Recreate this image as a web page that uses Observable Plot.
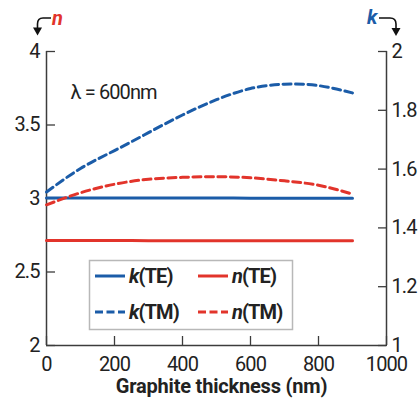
<!DOCTYPE html>
<html>
<head>
<meta charset="utf-8">
<script src="https://cdn.jsdelivr.net/npm/d3@7"></script>
<script src="https://cdn.jsdelivr.net/npm/@observablehq/plot@0.6"></script>
<style>
  html, body { margin: 0; padding: 0; background: white; }
  #chart { width: 419px; height: 401px; }
  #chart svg text { letter-spacing: -0.9px; }
  #chart svg text.xlabel { letter-spacing: -0.2px; }
</style>
</head>
<body>
<div id="chart"></div>
<script>
// Data
const thickness = [0, 100, 200, 300, 400, 500, 600, 700, 800, 900];
const kTE = [1.502, 1.502, 1.502, 1.502, 1.502, 1.502, 1.501, 1.501, 1.501, 1.501];
const kTM = [1.522, 1.602, 1.663, 1.724, 1.784, 1.836, 1.874, 1.889, 1.884, 1.859];
const nTE = [2.714, 2.714, 2.714, 2.713, 2.713, 2.713, 2.712, 2.712, 2.712, 2.712];
const nTM = [2.957, 3.039, 3.097, 3.131, 3.144, 3.148, 3.141, 3.120, 3.090, 3.030];
const xTicks = [0, 200, 400, 600, 800, 1000];
const nTicks = [2, 2.5, 3, 3.5, 4];
const kTicks = [1, 1.2, 1.4, 1.6, 1.8, 2];
const seriesNames = ["k(TE)", "n(TE)", "k(TM)", "n(TM)"];
const xLabel = "Graphite thickness (nm)";
const wavelengthLabel = "λ = 600nm";

const blue = "#1b5ca8";
const red = "#e2342b";
const axisColor = "#3c3c3c";
const font = "Roboto, 'Liberation Sans', Arial, sans-serif";

// k is plotted on the left (n) scale: n-units = 2*k  (k 1..2 ↔ n 2..4)
const kToN = k => 2 * k;
const rows = (vals, toN) => thickness.map((t, i) => ({x: t, y: toN(vals[i])}));
const idN = v => v;

const lineOpts = (stroke, dashed) => ({
  x: "x", y: "y", stroke, strokeWidth: 3, curve: "natural",
  strokeDasharray: dashed ? "8,4.5" : null
});

const chart = Plot.plot({
  width: 419,
  height: 401,
  marginLeft: 46,
  marginRight: 33,
  marginTop: 51,
  marginBottom: 56,
  x: {domain: [0, 1000]},
  y: {domain: [2, 4]},
  style: {fontFamily: font, fontSize: "20px", color: "#222", background: "white", overflow: "visible"},
  marks: [
    // axis lines
    Plot.ruleX([0, 1000], {stroke: axisColor, strokeWidth: 1.5}),
    Plot.ruleY([2], {stroke: axisColor, strokeWidth: 1.5}),
    // inward ticks
    Plot.axisX({ticks: xTicks, tickSize: -9, tickFormat: () => "", stroke: axisColor, strokeWidth: 1.3, label: null}),
    Plot.axisY({ticks: nTicks, tickSize: -9, tickFormat: () => "", stroke: axisColor, strokeWidth: 1.3, label: null}),
    Plot.axisY({anchor: "right", ticks: kTicks.map(kToN), tickSize: -9, tickFormat: () => "", stroke: axisColor, strokeWidth: 1.3, label: null}),
    // tick labels
    Plot.axisX({ticks: xTicks, tickSize: 0, tickPadding: 11, tickFormat: d => String(d), label: null}),
    Plot.axisY({ticks: nTicks, tickSize: 0, tickPadding: 7, tickFormat: d => String(d), label: null}),
    Plot.axisY({anchor: "right", ticks: kTicks.map(kToN), tickSize: 0, tickPadding: 5, tickFormat: d => String(+(d / 2).toFixed(1)), label: null}),
    // data
    Plot.line(rows(nTE, idN), lineOpts(red, false)),
    Plot.line(rows(kTE, kToN), lineOpts(blue, false)),
    Plot.line(rows(nTM, idN), lineOpts(red, true)),
    Plot.line(rows(kTM, kToN), lineOpts(blue, true)),
    // annotations
    Plot.text([wavelengthLabel], {frameAnchor: "top-left", dx: 24, dy: 33, textAnchor: "start", fontSize: 20, fill: "#222"}),
    Plot.text([xLabel], {frameAnchor: "bottom", dx: 5, dy: 47, fontWeight: "bold", fontSize: 20, fill: "#222", className: "xlabel"})
  ]
});

document.getElementById("chart").appendChild(chart);
// letter-spacing for the axis title
d3.select(chart).selectAll("g.xlabel text").style("letter-spacing", "-0.2px");

// Legend, axis-name arrows (drawn into the same SVG)
const svg = d3.select(chart);

const lg = svg.append("g").attr("font-family", font).attr("font-weight", "bold").attr("font-size", 20)
  .attr("fill", "#222").attr("text-anchor", "start");
lg.append("rect").attr("x", 89.5).attr("y", 260.5).attr("width", 203).attr("height", 69)
  .attr("fill", "white").attr("stroke", "#b8b8b8").attr("stroke-width", 1.5);
const legendItems = [
  {name: seriesNames[0], color: blue, dash: null, x: 95, y: 276},
  {name: seriesNames[1], color: red, dash: null, x: 198, y: 276},
  {name: seriesNames[2], color: blue, dash: "8,3.5", x: 95, y: 312},
  {name: seriesNames[3], color: red, dash: "8,3.5", x: 198, y: 312}
];
for (const it of legendItems) {
  lg.append("line").attr("x1", it.x).attr("x2", it.x + 30).attr("y1", it.y).attr("y2", it.y)
    .attr("stroke", it.color).attr("stroke-width", 3).attr("stroke-dasharray", it.dash);
  const t = lg.append("text").attr("x", it.x + 34).attr("y", it.y + 7);
  t.append("tspan").attr("font-style", "italic").text(it.name[0]);
  t.append("tspan").text(it.name.slice(1));
}

// n arrow (left)
const ag = svg.append("g").attr("fill", "none").attr("stroke", "#111").attr("stroke-width", 1.6);
ag.append("path").attr("d", "M51,18 H43 Q37.5,18 37.5,24 V29");
svg.append("path").attr("d", "M33,27.5 L42,27.5 L37.5,35.5 Z").attr("fill", "#111");
svg.append("text").attr("x", 52).attr("y", 25).attr("text-anchor", "start").attr("font-family", font).attr("font-size", 20)
  .attr("font-weight", "bold").attr("font-style", "italic").attr("fill", red).text("n");
// k arrow (right)
ag.append("path").attr("d", "M379,18 H390 Q396,18 396,24 V29");
svg.append("path").attr("d", "M391.5,28 L400.5,28 L396,36 Z").attr("fill", "#111");
svg.append("text").attr("x", 367).attr("y", 24).attr("text-anchor", "start").attr("font-family", font).attr("font-size", 20)
  .attr("font-weight", "bold").attr("font-style", "italic").attr("fill", blue).text("k");
</script>
</body>
</html>
